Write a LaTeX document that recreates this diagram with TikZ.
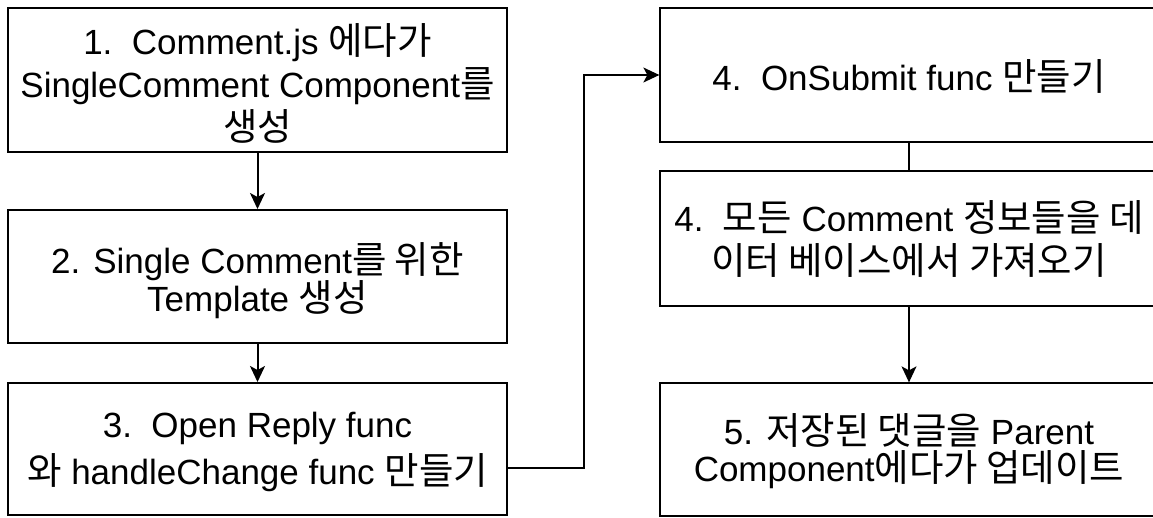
\documentclass[tikz,border=0pt]{standalone}
\usepackage{fontspec}
\setmainfont{Liberation Sans}
\newfontfamily\kr{Noto Sans CJK KR}[Scale=1.07]
\usetikzlibrary{arrows.meta}
\begin{document}
\begin{tikzpicture}[x=1pt,y=-1pt,
  lbox/.style={draw=black, rectangle, line width=2pt, minimum width=499pt},
  rbox/.style={draw=black, rectangle, line width=1.3pt, minimum width=498pt},
  txt/.style={inner sep=0pt, align=center, font=\fontsize{35}{40}\selectfont},
  tip/.style={-{Stealth[length=16pt,width=15pt,inset=4pt]}},
  larr/.style={tip, line width=2pt},
  rarr/.style={tip, line width=1.3pt},
  rline/.style={line width=1.3pt}]
\useasboundingbox (0,0) rectangle (1153,517);
% left column
\node[lbox, minimum height=144pt] (b1) at (257.5,80) {};
\node[txt] (t1) at (257.5,83)
  {1.~~Comment.js {\kr 에다가}\\[3pt]SingleComment Component{\kr 를}\\[3pt]{\kr 생성}};
\node[lbox, minimum height=133pt] (b2) at (257.5,276.5) {};
\node[txt] (t2) at (257.5,280.5)
  {2. Single Comment{\kr 를 위한}\\[-2pt]Template {\kr 생성}};
\node[lbox, minimum height=132pt] (b3) at (257.5,449) {};
\node[txt] (t3) at (257.5,452)
  {3.~~Open Reply func\\[7pt]{\kr 와} handleChange func {\kr 만들기}};
% right column
\node[rbox, minimum height=134pt] (b4) at (909,75) {};
\node[txt] (t4) at (909,76) {4.~~OnSubmit func {\kr 만들기}};
\node[rbox, minimum height=135pt] (b5) at (909,238.5) {};
\node[txt] (t5) at (909,238.5)
  {4.~~{\kr 모든} Comment {\kr 정보들을 데}\\[3pt]{\kr 이터 베이스에서 가져오기}};
\node[rbox, minimum height=133pt] (b6) at (909,449.5) {};
\node[txt] (t6) at (909,451.5)
  {5. {\kr 저장된 댓글을} Parent\\[-3pt]Component{\kr 에다가 업데이트}};
% connectors
\draw[larr] (b1) -- (b2);
\draw[larr] (b2) -- (b3);
\draw[rarr] ([yshift=-19pt]b3.east) -- ++(76pt,0) |- (b4.west);
\draw[rline] (b4) -- (b5);
\draw[rarr] (b5) -- (b6);
\end{tikzpicture}
\end{document}
